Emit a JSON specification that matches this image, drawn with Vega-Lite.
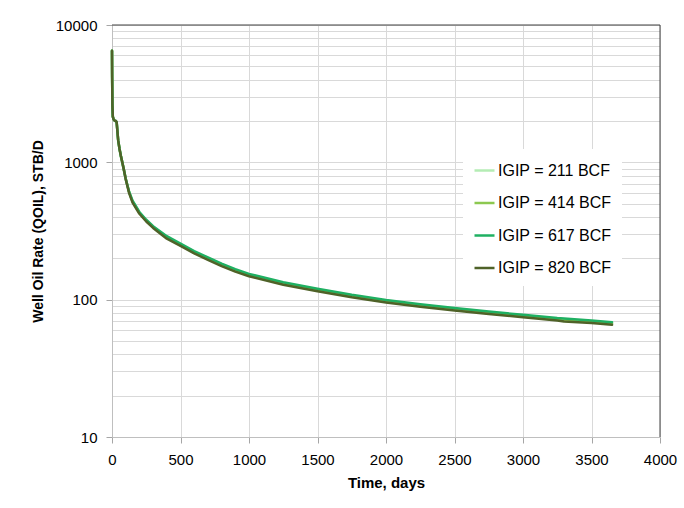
{
  "$schema": "https://vega.github.io/schema/vega-lite/v6.json",
  "width": 548,
  "height": 412,
  "autosize": {"type": "none"},
  "padding": {"left": 112, "top": 25, "right": 24, "bottom": 71},
  "background": "white",
  "config": {
    "view": {"stroke": null},
    "font": "Liberation Sans"
  },
  "data": {
    "values": [
      {"t": 0, "g211": 6500, "g414": 6500, "g617": 6500, "g820": 6500},
      {"t": 1, "g211": 4200, "g414": 4200, "g617": 4200, "g820": 4200},
      {"t": 3, "g211": 2600, "g414": 2600, "g617": 2600, "g820": 2600},
      {"t": 6, "g211": 2150, "g414": 2150, "g617": 2150, "g820": 2150},
      {"t": 12, "g211": 2050, "g414": 2050, "g617": 2050, "g820": 2050},
      {"t": 20, "g211": 2010, "g414": 2010, "g617": 2010, "g820": 2010},
      {"t": 28, "g211": 2000, "g414": 2000, "g617": 2000, "g820": 2000},
      {"t": 34, "g211": 1960, "g414": 1960, "g617": 1960, "g820": 1960},
      {"t": 38, "g211": 1750, "g414": 1750, "g617": 1750, "g820": 1750},
      {"t": 45, "g211": 1450, "g414": 1450, "g617": 1450, "g820": 1450},
      {"t": 55, "g211": 1250, "g414": 1250, "g617": 1250, "g820": 1250},
      {"t": 65, "g211": 1110, "g414": 1110, "g617": 1110, "g820": 1110},
      {"t": 75, "g211": 1000, "g414": 1000, "g617": 1000, "g820": 1000},
      {"t": 85, "g211": 900, "g414": 900, "g617": 900, "g820": 900},
      {"t": 100, "g211": 760, "g414": 760, "g617": 760, "g820": 755},
      {"t": 125, "g211": 607, "g414": 605, "g617": 610, "g820": 597},
      {"t": 150, "g211": 520, "g414": 517, "g617": 525, "g820": 509},
      {"t": 200, "g211": 431, "g414": 428, "g617": 435, "g820": 422},
      {"t": 250, "g211": 378, "g414": 376, "g617": 382, "g820": 371},
      {"t": 300, "g211": 340, "g414": 338, "g617": 343, "g820": 333},
      {"t": 400, "g211": 286, "g414": 283, "g617": 290, "g820": 278},
      {"t": 500, "g211": 252, "g414": 250, "g617": 256, "g820": 246},
      {"t": 600, "g211": 223, "g414": 220, "g617": 226, "g820": 217},
      {"t": 700, "g211": 200, "g414": 198, "g617": 203, "g820": 195},
      {"t": 800, "g211": 180, "g414": 178.5, "g617": 183, "g820": 175.5},
      {"t": 900, "g211": 164.5, "g414": 163, "g617": 167, "g820": 160},
      {"t": 1000, "g211": 151.5, "g414": 150, "g617": 154, "g820": 148},
      {"t": 1250, "g211": 132, "g414": 130.5, "g617": 134, "g820": 128.5},
      {"t": 1500, "g211": 118, "g414": 117, "g617": 120, "g820": 115},
      {"t": 1750, "g211": 107, "g414": 106, "g617": 108.5, "g820": 104},
      {"t": 2000, "g211": 98, "g414": 97, "g617": 99.5, "g820": 95.5},
      {"t": 2250, "g211": 91, "g414": 90, "g617": 92.5, "g820": 88.8},
      {"t": 2500, "g211": 85.7, "g414": 84.8, "g617": 87, "g820": 83.5},
      {"t": 2750, "g211": 80.8, "g414": 80, "g617": 82, "g820": 78.7},
      {"t": 3000, "g211": 76.3, "g414": 75.6, "g617": 77.5, "g820": 74.4},
      {"t": 3250, "g211": 72.4, "g414": 71.7, "g617": 73.5, "g820": 70.6},
      {"t": 3300, "g211": 71.9, "g414": 71.2, "g617": 73, "g820": 69.3},
      {"t": 3500, "g211": 69.4, "g414": 68.7, "g617": 70.5, "g820": 67.5},
      {"t": 3650, "g211": 67.5, "g414": 66.8, "g617": 68.5, "g820": 65.6}
    ]
  },
  "layer": [
    {
      "transform": [
        {"fold": ["g211", "g414", "g617", "g820"], "as": ["series", "q"]}
      ],
      "mark": {"type": "line", "strokeWidth": 2.5, "strokeJoin": "round", "strokeCap": "round"},
      "encoding": {
        "x": {
          "field": "t",
          "type": "quantitative",
          "scale": {"domain": [0, 4000], "nice": false},
          "axis": {
            "values": [0, 500, 1000, 1500, 2000, 2500, 3000, 3500, 4000],
            "format": "d",
            "title": "Time, days",
            "titleFontSize": 15,
            "titleFontWeight": "bold",
            "titleColor": "#000000",
            "titlePadding": 8,
            "labelFontSize": 15,
            "labelColor": "#000000",
            "labelPadding": 9,
            "labelFlush": false,
            "labelOverlap": false,
            "tickSize": 6,
            "tickColor": "#a6a6a6",
            "domainColor": "#bfbfbf",
            "grid": true,
            "gridColor": "#d9d9d9"
          }
        },
        "y": {
          "field": "q",
          "type": "quantitative",
          "scale": {"type": "log", "domain": [10, 10000], "nice": false},
          "axis": {
            "values": [10, 20, 30, 40, 50, 60, 70, 80, 90, 100, 200, 300, 400, 500, 600, 700, 800, 900, 1000, 2000, 3000, 4000, 5000, 6000, 7000, 8000, 9000, 10000],
            "labelExpr": "indexof([10, 100, 1000, 10000], datum.value) >= 0 ? '' + datum.value : ''",
            "title": "Well Oil Rate (QOIL), STB/D",
            "titleFontSize": 14,
            "titleFontWeight": "bold",
            "titleColor": "#000000",
            "titlePadding": 10,
            "labelFontSize": 15,
            "labelColor": "#000000",
            "labelPadding": 9,
            "labelOverlap": false,
            "tickSize": 6,
            "tickColor": {
              "condition": {"test": "indexof([10, 100, 1000, 10000], datum.value) >= 0", "value": "#a6a6a6"},
              "value": "transparent"
            },
            "domainColor": "#bfbfbf",
            "grid": true,
            "gridColor": "#d9d9d9"
          }
        },
        "color": {
          "field": "series",
          "type": "nominal",
          "scale": {
            "domain": ["g211", "g414", "g617", "g820"],
            "range": ["#b4ecb4", "#8cc850", "#1fb062", "#4f6228"]
          },
          "legend": {
            "orient": "none",
            "legendX": 351,
            "legendY": 124,
            "title": null,
            "fillColor": "white",
            "padding": 10,
            "symbolType": "stroke",
            "symbolSize": 400,
            "symbolStrokeWidth": 2.5,
            "rowPadding": 12.5,
            "labelOffset": 2,
            "labelFontSize": 16,
            "labelColor": "#000000",
            "labelExpr": "'IGIP = ' + substring(datum.label, 1) + ' BCF'"
          }
        }
      }
    },
    {
      "data": {"values": [{"edge": "top"}]},
      "mark": {"type": "rule", "color": "#404040", "strokeWidth": 1},
      "encoding": {
        "x": {"datum": 0},
        "x2": {"datum": 4000},
        "y": {"datum": 10000}
      }
    },
    {
      "data": {"values": [{"edge": "right"}]},
      "mark": {"type": "rule", "color": "#404040", "strokeWidth": 1},
      "encoding": {
        "x": {"datum": 4000},
        "y": {"datum": 10},
        "y2": {"datum": 10000}
      }
    }
  ]
}
